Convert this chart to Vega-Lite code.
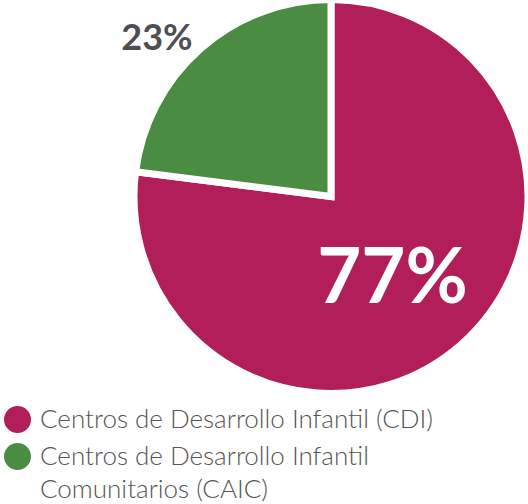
{
  "$schema": "https://vega.github.io/schema/vega-lite/v6.json",
  "autosize": "none",
  "width": 394,
  "height": 393,
  "padding": {"left": 134, "top": 0, "right": 0, "bottom": 111},
  "background": "white",
  "config": {"view": {"stroke": null}, "style": {"guide-label": {"lineHeight": 33}}},
  "data": {
    "values": [
      {"tipo": "Centros de Desarrollo Infantil (CDI)", "pct": 77, "orden": 1, "etiqueta": "77%"},
      {"tipo": "Centros de Desarrollo Infantil Comunitarios (CAIC)", "pct": 23, "orden": 2, "etiqueta": "23%"}
    ]
  },
  "encoding": {
    "theta": {"field": "pct", "type": "quantitative", "stack": true},
    "order": {"field": "orden", "type": "quantitative"}
  },
  "layer": [
    {
      "mark": {"type": "arc", "radius": 197, "stroke": "white", "strokeWidth": 7},
      "encoding": {
        "color": {
          "field": "tipo",
          "type": "nominal",
          "sort": ["Centros de Desarrollo Infantil (CDI)", "Centros de Desarrollo Infantil Comunitarios (CAIC)"],
          "scale": {"range": ["#B21E5A", "#4A8C42"]},
          "legend": {
            "title": null,
            "orient": "none",
            "legendX": -130,
            "legendY": 406,
            "symbolType": "circle",
            "symbolSize": 729,
            "symbolStrokeWidth": 0,
            "labelFont": "Lato",
            "labelFontSize": 26,
            "labelFontWeight": 300,
            "labelColor": "#555555",
            "labelOffset": 9,
            "labelLimit": 600,
            "rowPadding": 10,
            "labelExpr": "datum.label == 'Centros de Desarrollo Infantil Comunitarios (CAIC)' ? ['Centros de Desarrollo Infantil', 'Comunitarios (CAIC)'] : datum.label"
          }
        }
      }
    },
    {
      "mark": {"type": "text", "radius": 93, "font": "Lato", "fontWeight": "bold", "fontSize": 76, "color": "white", "align": "center", "baseline": "middle", "dy": 14},
      "encoding": {"text": {"condition": {"test": "datum.orden == 1", "field": "etiqueta"}, "value": ""}}
    },
    {
      "mark": {"type": "text", "radius": 236, "dx": -18, "dy": 20, "font": "Lato", "fontWeight": "bold", "fontSize": 36, "color": "#4F4F51", "align": "center", "baseline": "middle"},
      "encoding": {"text": {"condition": {"test": "datum.orden == 2", "field": "etiqueta"}, "value": ""}}
    }
  ]
}
